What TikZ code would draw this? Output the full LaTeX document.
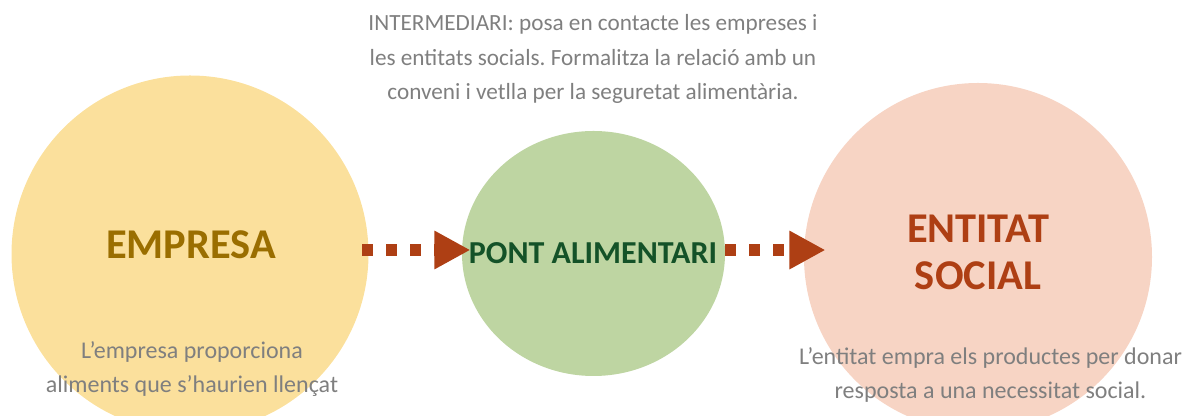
\documentclass[tikz,border=0pt]{standalone}
\usepackage{fontspec}
\setmainfont{Carlito}
\usepackage{xcolor}
\usetikzlibrary{arrows.meta,shapes.geometric}

\definecolor{gold}{HTML}{FBE09C}
\definecolor{leaf}{HTML}{BED5A2}
\definecolor{peach}{HTML}{F7D4C4}
\definecolor{rust}{HTML}{AE3F14}
\definecolor{goldtext}{HTML}{9A6E00}
\definecolor{leaftext}{HTML}{145228}
\definecolor{note}{HTML}{7F7F7F}

\begin{document}
\frenchspacing
\begin{tikzpicture}[x=0.75pt, y=0.75pt,
  flow/.style={rust, line width=9pt, dash pattern=on 8.25pt off 9.75pt, -{Triangle[length=27pt,width=27pt]}},
  notetext/.style={note, align=center, font=\fontsize{18}{26}\selectfont},
  headtext/.style={align=center, font=\bfseries\fontsize{31.8}{35}\selectfont}]
\clip (0,0) rectangle (1189,416);

\node[circle, fill=gold, minimum size=267.75pt, inner sep=0] (empresa) at (190,162) {};
\node[ellipse, fill=leaf, minimum width=197.25pt, minimum height=183.75pt, inner sep=0] (pont) at (593.5,162.5) {};
\node[circle, fill=peach, minimum size=261pt, inner sep=0] (entitat) at (978,159) {};

\draw[flow, shorten <=-4.9pt, shorten >=-6.5pt] ([yshift=3pt]empresa.east) -- ([yshift=3pt]empresa.east -| pont.west);
\draw[flow, shorten >=-16.3pt] ([yshift=2.6pt]pont.east) -- ([yshift=2.6pt]pont.east -| entitat.west);

\node[headtext, goldtext, anchor=base] (empresalabel) at (191,157) {EMPRESA};
\node[font=\bfseries\fontsize{24}{28}\selectfont, leaftext, anchor=base] (pontlabel) at (593,152) {PONT ALIMENTARI};
\node[headtext, rust] (entitatlabel) at (978,163.6) {ENTITAT\\SOCIAL};

\node[notetext, font=\fontsize{17.4}{26}\selectfont] (intermediari) at (593,357) {INTERMEDIARI: posa en contacte les empreses i\\les entitats socials. Formalitza la relació amb un\\conveni i vetlla per la seguretat alimentària.};
\node[notetext] (empresanote) at (192,47) {L’empresa proporciona\\aliments que s’haurien llençat};
\node[notetext] (entitatnote) at (990.5,41) {L’entitat empra els productes per donar\\resposta a una necessitat social.};
\end{tikzpicture}
\end{document}
